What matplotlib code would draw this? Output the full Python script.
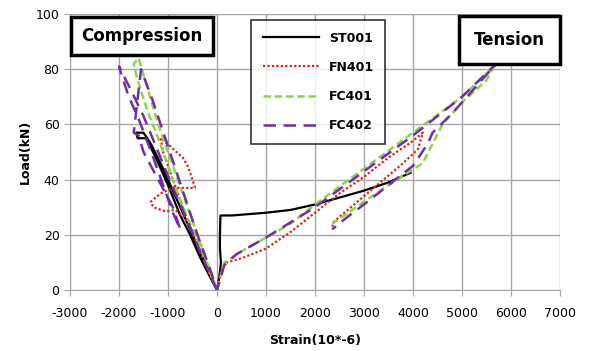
import numpy as np
import matplotlib.pyplot as plt

plt.rcParams["axes.unicode_minus"] = False

# strain (10^-6) and load (kN), compression then tension
st001_x = [0, -250, -500, -800, -1100, -1350, -1500, -1650, -1620, -1450, -1250, -1000, -750, -550, -350, -150, 0,
           50, 80, 60, 60, 70, 300, 1000, 1500, 2000, 2500, 3000, 3500, 3950]
st001_y = [0, 10, 20, 32, 44, 53, 57, 57, 55, 55, 48, 38, 27, 20, 12, 5, 0,
           5, 10, 15, 20, 27, 27, 28, 29, 31, 33.5, 36, 39, 42.5]

fn401_x = [0, -300, -600, -900, -1100, -1150, -950, -700, -600, -500, -450, -650, -900, -1150, -1350, -1300, -1050,
           -850, -650, -450, -250, 0,
           100, 200, 500, 1000, 1500, 2000, 2500, 3000, 3500, 4000, 4200, 4100, 3800, 3400, 3000, 2600, 2400, 2350]
fn401_y = [0, 12, 25, 40, 50, 55, 52, 48, 45, 40, 37, 37, 37, 35, 32, 30, 28.5,
           29, 26, 19, 10, 0,
           8, 10, 11.5, 15, 21, 28, 35, 41, 48, 54, 57, 51, 46, 40, 34, 28, 25, 23]

fc401_x = [0, -300, -600, -900, -1200, -1450, -1600, -1700, -1650, -1550, -1400, -1200, -1000, -800, -600, -400, -200, 0,
           150, 500, 1000, 1500, 2000, 3000, 4000, 5000, 5650, 5500, 5000, 4600, 4200, 3500, 3000, 2600, 2350]
fc401_y = [0, 15, 30, 45, 60, 75, 84, 82, 78, 72, 64, 55, 45, 35, 26, 18, 9, 0,
           10, 14, 19, 24, 31, 44, 57, 70, 81, 76, 68, 60, 46, 38, 32, 27, 24]

fc402_x = [0, -300, -600, -900, -1200, -1500, -1800, -2000, -1950, -1800, -1600, -1450, -1300, -1100, -900, -750,
           -900, -1200, -1500, -1600, -1700, -1550, -1300, -1000, -700, -400, -150, 0,
           150, 400, 1000, 2000, 3000, 4000, 5000, 5700, 5300, 4800, 4400, 4300, 4000, 3500, 3000, 2700, 2350]
fc402_y = [0, 12, 25, 37, 50, 63, 74, 81, 78, 70, 62, 55, 48, 38, 28, 22,
           30, 40, 50, 56, 57, 80, 68, 52, 36, 20, 8, 0,
           9, 13, 19, 30, 43, 56, 70, 82, 74, 64, 57, 53, 45, 38, 31, 27, 22]

fig = plt.figure(figsize=(6, 3.51), dpi=100)
ax = fig.add_axes([0.1167, 0.1738, 0.8166, 0.7862])

ax.plot(st001_x, st001_y, color="black", lw=1.6, label="ST001")
ax.plot(fn401_x, fn401_y, color="#e0201c", lw=1.6, ls=(0, (1, 1)), label="FN401")
ax.plot(fc401_x, fc401_y, color="#92d050", lw=1.8, ls=(0, (3, 1.5)), label="FC401")
ax.plot(fc402_x, fc402_y, color="#7030a0", lw=1.8, ls=(0, (5, 3)), label="FC402")

ax.set_xlim(-3000, 7000)
ax.set_ylim(0, 100)
ax.set_xticks(np.arange(-3000, 7001, 1000))
ax.set_yticks(np.arange(0, 101, 20))
ax.grid(True, color="#a6a6a6", lw=1)
ax.set_axisbelow(True)
for s in ["top", "right"]:
    ax.spines[s].set_visible(False)
for s in ["left", "bottom"]:
    ax.spines[s].set_color("#a6a6a6")
ax.tick_params(length=4, color="#a6a6a6", labelsize=9)
ax.tick_params(axis="x", pad=8)
ax.set_xlabel("Strain(10*-6)", fontsize=9, fontweight="bold", labelpad=10)
ax.set_ylabel("Load(kN)", fontsize=9, fontweight="bold", labelpad=3)

leg = ax.legend(loc="upper left", bbox_to_anchor=(245 / 600, 1 - 14 / 351),
                bbox_transform=fig.transFigure, frameon=True, fancybox=False,
                handlelength=4.5, labelspacing=1.3, borderpad=0.9,
                prop={"weight": "bold", "size": 9})
leg.get_frame().set_edgecolor("black")
leg.get_frame().set_linewidth(1.2)

fig.text(142 / 600, 1 - 36 / 351, "Compression", fontsize=12, fontweight="bold",
         ha="center", va="center",
         bbox=dict(boxstyle="square,pad=0.6", fc="white", ec="black", lw=2.5))
fig.text(509 / 600, 1 - 40 / 351, "Tension", fontsize=12, fontweight="bold",
         ha="center", va="center",
         bbox=dict(boxstyle="square,pad=0.9", fc="white", ec="black", lw=2.5))

fig.savefig("out.png", dpi=100)
